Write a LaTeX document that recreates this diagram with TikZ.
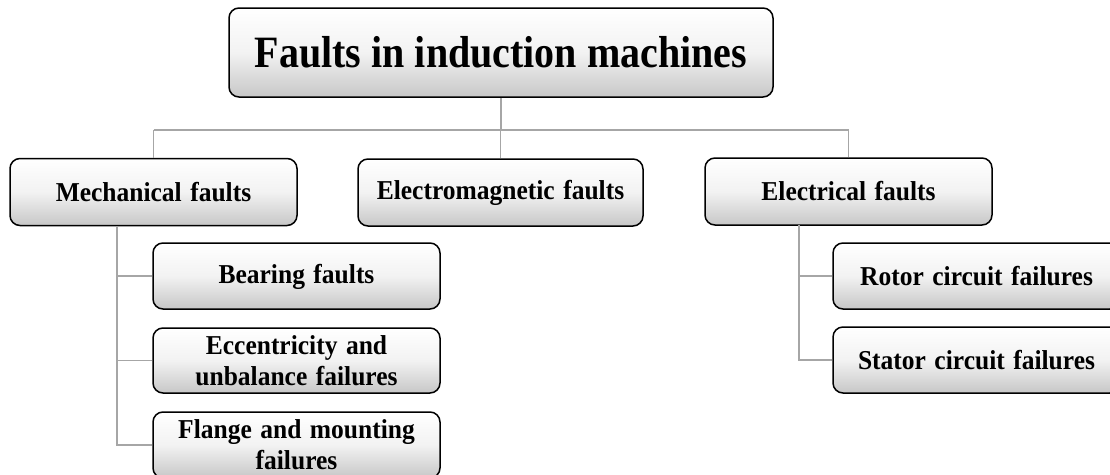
\documentclass[tikz,border=0pt]{standalone}
\usepackage{fontspec}
\setmainfont{Liberation Serif}
\usetikzlibrary{calc}
\newcommand\stx[1]{\rule[-3pt]{0pt}{24pt}\scalebox{1}[1.07]{#1}}
\tikzset{
  fbox/.style={draw=black, line width=1.5pt, rounded corners=10pt,
    top color=white, bottom color=black!22, middle color=white!95!black,
    inner sep=0pt, align=center,
    font=\bfseries\fontsize{25.5}{31}\selectfont},
  childbox/.style={fbox, minimum width=287pt, minimum height=66pt, text width=280pt},
  conn/.style={draw=black!35, line width=1.3pt}
}
\begin{document}
\begin{tikzpicture}[x=1pt,y=-1pt]
\useasboundingbox (0,0) rectangle (1110,474);
\clip (0,0) rectangle (1110,474);
% nodes
\node[fbox, minimum width=544pt, minimum height=89pt,
  font=\bfseries\fontsize{40}{48}\selectfont] (title) at (501,52.5)
  {\rule[-4pt]{0pt}{38pt}\scalebox{1}[1.12]{Faults in induction machines}};
\node[childbox, minimum height=67pt] (mech) at (153.5,192) {\stx{Mechanical faults}};
\node[childbox, minimum width=285pt, minimum height=67pt] (em) at (500.5,192.5) {\stx{Electromagnetic faults}};
\node[childbox, minimum height=67pt] (elec) at (848.5,191.5) {\stx{Electrical faults}};
\node[childbox] (bear) at (296.5,276) {\stx{Bearing faults}};
\node[childbox, minimum height=65pt] (ecc) at (296.5,360.5) {\stx{Eccentricity and}\\\stx{unbalance failures}};
\node[childbox] (flange) at (296.5,445) {\stx{Flange and mounting}\\\stx{failures}};
\node[childbox] (rotor) at (976.5,276) {\stx{Rotor circuit failures}};
\node[childbox] (stator) at (976.5,360) {\stx{Stator circuit failures}};
% connectors
\coordinate (busL) at (153.5,130);
\coordinate (busR) at (848.5,130);
\coordinate (mtop) at (117,226);
\coordinate (etop) at (799,225);
\draw[conn] (title.south) -- (title.south |- busL);
\draw[conn] (busL) -- (busR);
\draw[conn] (mech.north) -- (mech.north |- busL);
\draw[conn] (em.north) -- (em.north |- busL);
\draw[conn] (elec.north) -- (elec.north |- busR);
\draw[conn] (mtop) |- (flange.west);
\draw[conn] (mtop |- bear.west) -- (bear.west);
\draw[conn] (mtop |- ecc.west) -- (ecc.west);
\draw[conn] (etop) |- (stator.west);
\draw[conn] (etop |- rotor.west) -- (rotor.west);
\end{tikzpicture}
\end{document}
